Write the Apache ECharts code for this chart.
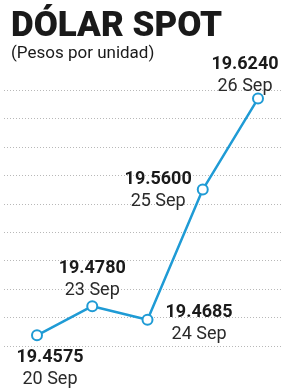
<!DOCTYPE html>
<html>
<head>
<meta charset="utf-8">
<script src="https://cdn.jsdelivr.net/npm/echarts@6/dist/echarts.min.js"></script>
<style>
  html, body { margin: 0; padding: 0; background: #fff; }
  #chart { width: 283px; height: 392px; }
</style>
</head>
<body>
<div id="chart"></div>
<script>
// dates and dollar spot values
const dates = ['20 Sep', '23 Sep', '24 Sep', '25 Sep', '26 Sep'];
const values = [19.4575, 19.4780, 19.4685, 19.5600, 19.6240];
const valueLabels = ['19.4575', '19.4780', '19.4685', '19.5600', '19.6240'];

// where each label sits relative to its point
const labelPlaces = [
    { position: 'bottom', offset: [13, 0] },
    { position: 'top', offset: [0, 6] },
    { position: 'right', offset: [7, 4] },
    { position: 'left', offset: [0, 1] },
    { position: 'top', offset: [-13, 10] }
];

var chartDom = document.getElementById('chart');
var myChart = echarts.init(chartDom);
var option;

// shared y scale, used twice: once for the full-width dotted lines, once for the line
const yScale = { type: 'value', min: 19.45, max: 19.63, interval: 0.02 };

option = {
    animation: false,
    title: {
        left: 6,
        top: 5,
        text: 'DÓLAR SPOT',
        subtext: '(Pesos por unidad)',
        itemGap: 0,
        textStyle: {
            fontFamily: 'Roboto',
            fontWeight: 900,
            fontSize: 35,
            color: '#1a1a1a'
        },
        subtextStyle: {
            fontFamily: 'Roboto',
            fontSize: 17,
            color: '#1a1a1a'
        }
    },
    grid: [
        { left: 37, right: 25, top: 90, bottom: 46 },
        { left: 4, right: 0, top: 90, bottom: 46 }
    ],
    xAxis: [
        { type: 'category', data: dates, boundaryGap: false, show: false, gridIndex: 0 },
        { type: 'value', show: false, gridIndex: 1 }
    ],
    yAxis: [
        Object.assign({}, yScale, { gridIndex: 0, show: false }),
        Object.assign({}, yScale, {
            gridIndex: 1,
            axisLine: { show: false },
            axisTick: { show: false },
            axisLabel: { show: false },
            splitLine: {
                lineStyle: { color: '#b8b8b8', type: [1, 2], width: 1 }
            }
        })
    ],
    series: [
        {
            type: 'line',
            xAxisIndex: 0,
            yAxisIndex: 0,
            z: 3,
            data: values.map((v, i) => ({
                value: v,
                label: labelPlaces[i]
            })),
            symbol: 'circle',
            symbolSize: 10,
            lineStyle: { color: '#1f9bd5', width: 2.5 },
            itemStyle: { color: '#fff', borderColor: '#1f9bd5', borderWidth: 2 },
            label: {
                show: true,
                distance: 5,
                formatter: p => '{v|' + valueLabels[p.dataIndex] + '}\n{d|' + dates[p.dataIndex] + '}',
                rich: {
                    v: {
                        fontFamily: 'Roboto',
                        fontWeight: 'bold',
                        fontSize: 18,
                        lineHeight: 22,
                        color: '#1a1a1a',
                        align: 'center'
                    },
                    d: {
                        fontFamily: 'Roboto',
                        fontSize: 18,
                        lineHeight: 22,
                        color: '#2a2a2a',
                        align: 'center'
                    }
                }
            }
        }
    ]
};
option && myChart.setOption(option);
</script>
</body>
</html>
